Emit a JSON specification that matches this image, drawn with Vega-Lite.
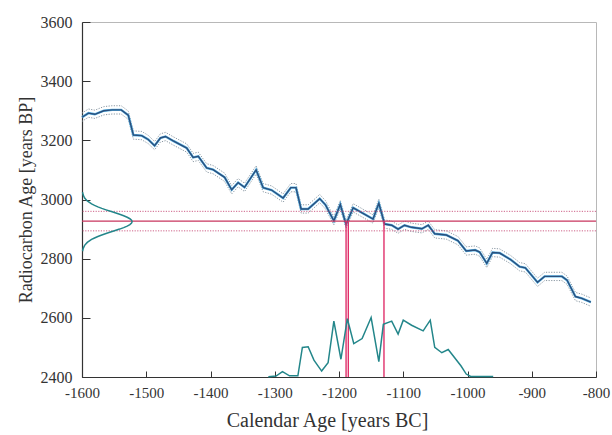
{
  "$schema": "https://vega.github.io/schema/vega-lite/v6.json",
  "width": 514,
  "height": 355,
  "autosize": {"type": "none"},
  "padding": {"left": 82, "top": 22, "right": 16, "bottom": 58},
  "background": "white",
  "config": {
    "view": {"stroke": "#b8b8b8", "strokeWidth": 1},
    "axis": {
      "labelFont": "Liberation Serif",
      "titleFont": "Liberation Serif",
      "labelColor": "#333",
      "titleColor": "#333",
      "titleFontWeight": "normal",
      "domainColor": "#333",
      "tickColor": "#333",
      "labelFlush": false,
      "labelOverlap": false,
      "grid": false
    }
  },
  "datasets": {
    "curve": [
      {"year": -1600, "bp": 3278, "hi": 3292, "lo": 3264},
      {"year": -1590, "bp": 3292, "hi": 3306, "lo": 3278},
      {"year": -1580, "bp": 3288, "hi": 3302, "lo": 3274},
      {"year": -1566, "bp": 3300, "hi": 3314, "lo": 3286},
      {"year": -1553, "bp": 3303, "hi": 3317, "lo": 3289},
      {"year": -1539, "bp": 3303, "hi": 3317, "lo": 3289},
      {"year": -1528, "bp": 3285, "hi": 3299, "lo": 3271},
      {"year": -1520, "bp": 3218, "hi": 3232, "lo": 3204},
      {"year": -1507, "bp": 3216, "hi": 3230, "lo": 3202},
      {"year": -1497, "bp": 3203, "hi": 3217, "lo": 3189},
      {"year": -1487, "bp": 3182, "hi": 3196, "lo": 3168},
      {"year": -1478, "bp": 3208, "hi": 3222, "lo": 3194},
      {"year": -1470, "bp": 3213, "hi": 3227, "lo": 3199},
      {"year": -1458, "bp": 3198, "hi": 3212, "lo": 3184},
      {"year": -1437, "bp": 3174, "hi": 3188, "lo": 3160},
      {"year": -1427, "bp": 3142, "hi": 3156, "lo": 3128},
      {"year": -1419, "bp": 3146, "hi": 3160, "lo": 3132},
      {"year": -1406, "bp": 3107, "hi": 3121, "lo": 3093},
      {"year": -1396, "bp": 3101, "hi": 3115, "lo": 3087},
      {"year": -1378, "bp": 3075, "hi": 3089, "lo": 3061},
      {"year": -1367, "bp": 3033, "hi": 3047, "lo": 3019},
      {"year": -1357, "bp": 3057, "hi": 3071, "lo": 3043},
      {"year": -1347, "bp": 3041, "hi": 3055, "lo": 3027},
      {"year": -1329, "bp": 3100, "hi": 3114, "lo": 3086},
      {"year": -1318, "bp": 3040, "hi": 3054, "lo": 3026},
      {"year": -1305, "bp": 3032, "hi": 3046, "lo": 3018},
      {"year": -1287, "bp": 3005, "hi": 3019, "lo": 2991},
      {"year": -1275, "bp": 3040, "hi": 3054, "lo": 3026},
      {"year": -1267, "bp": 3040, "hi": 3054, "lo": 3026},
      {"year": -1259, "bp": 2968, "hi": 2982, "lo": 2954},
      {"year": -1248, "bp": 2968, "hi": 2982, "lo": 2954},
      {"year": -1230, "bp": 3003, "hi": 3017, "lo": 2989},
      {"year": -1221, "bp": 2982, "hi": 2996, "lo": 2968},
      {"year": -1208, "bp": 2928, "hi": 2942, "lo": 2914},
      {"year": -1198, "bp": 2983, "hi": 2997, "lo": 2969},
      {"year": -1189, "bp": 2916, "hi": 2930, "lo": 2902},
      {"year": -1178, "bp": 2972, "hi": 2986, "lo": 2958},
      {"year": -1147, "bp": 2934, "hi": 2948, "lo": 2920},
      {"year": -1138, "bp": 2987, "hi": 3001, "lo": 2973},
      {"year": -1129, "bp": 2917, "hi": 2931, "lo": 2903},
      {"year": -1118, "bp": 2913, "hi": 2927, "lo": 2899},
      {"year": -1108, "bp": 2900, "hi": 2914, "lo": 2886},
      {"year": -1098, "bp": 2913, "hi": 2927, "lo": 2899},
      {"year": -1087, "bp": 2906, "hi": 2920, "lo": 2892},
      {"year": -1071, "bp": 2901, "hi": 2915, "lo": 2887},
      {"year": -1061, "bp": 2913, "hi": 2927, "lo": 2899},
      {"year": -1051, "bp": 2884, "hi": 2898, "lo": 2870},
      {"year": -1033, "bp": 2880, "hi": 2894, "lo": 2866},
      {"year": -1015, "bp": 2861, "hi": 2875, "lo": 2847},
      {"year": -1002, "bp": 2826, "hi": 2840, "lo": 2812},
      {"year": -988, "bp": 2829, "hi": 2843, "lo": 2815},
      {"year": -981, "bp": 2822, "hi": 2836, "lo": 2808},
      {"year": -970, "bp": 2784, "hi": 2798, "lo": 2770},
      {"year": -961, "bp": 2821, "hi": 2835, "lo": 2807},
      {"year": -950, "bp": 2819, "hi": 2833, "lo": 2805},
      {"year": -933, "bp": 2797, "hi": 2811, "lo": 2783},
      {"year": -919, "bp": 2773, "hi": 2787, "lo": 2759},
      {"year": -910, "bp": 2769, "hi": 2783, "lo": 2755},
      {"year": -891, "bp": 2720, "hi": 2734, "lo": 2706},
      {"year": -880, "bp": 2740, "hi": 2754, "lo": 2726},
      {"year": -853, "bp": 2740, "hi": 2754, "lo": 2726},
      {"year": -845, "bp": 2727, "hi": 2741, "lo": 2713},
      {"year": -832, "bp": 2672, "hi": 2686, "lo": 2658},
      {"year": -822, "bp": 2666, "hi": 2680, "lo": 2652},
      {"year": -808, "bp": 2653, "hi": 2667, "lo": 2639}
    ],
    "gauss": [
      {"gx": -1599.2, "gy": 2825},
      {"gx": -1598.1, "gy": 2835},
      {"gx": -1595.9, "gy": 2845},
      {"gx": -1591.8, "gy": 2855},
      {"gx": -1585.1, "gy": 2865},
      {"gx": -1580.5, "gy": 2870},
      {"gx": -1575.3, "gy": 2875},
      {"gx": -1569.2, "gy": 2880},
      {"gx": -1562.6, "gy": 2885},
      {"gx": -1555.6, "gy": 2890},
      {"gx": -1548.4, "gy": 2895},
      {"gx": -1541.5, "gy": 2900},
      {"gx": -1535.1, "gy": 2905},
      {"gx": -1529.7, "gy": 2910},
      {"gx": -1525.5, "gy": 2915},
      {"gx": -1522.9, "gy": 2920},
      {"gx": -1522, "gy": 2925},
      {"gx": -1522.9, "gy": 2930},
      {"gx": -1525.5, "gy": 2935},
      {"gx": -1529.7, "gy": 2940},
      {"gx": -1535.1, "gy": 2945},
      {"gx": -1541.5, "gy": 2950},
      {"gx": -1548.4, "gy": 2955},
      {"gx": -1555.6, "gy": 2960},
      {"gx": -1562.6, "gy": 2965},
      {"gx": -1569.2, "gy": 2970},
      {"gx": -1575.3, "gy": 2975},
      {"gx": -1580.5, "gy": 2980},
      {"gx": -1585.1, "gy": 2985},
      {"gx": -1591.8, "gy": 2995},
      {"gx": -1595.9, "gy": 3005},
      {"gx": -1598.1, "gy": 3015},
      {"gx": -1599.2, "gy": 3025}
    ],
    "prob": [
      {"year": -1310, "p": 2401},
      {"year": -1298, "p": 2403},
      {"year": -1288, "p": 2418},
      {"year": -1277, "p": 2404},
      {"year": -1264, "p": 2404},
      {"year": -1257, "p": 2500},
      {"year": -1248, "p": 2502},
      {"year": -1239, "p": 2457},
      {"year": -1227, "p": 2420},
      {"year": -1217, "p": 2448},
      {"year": -1208, "p": 2589},
      {"year": -1197, "p": 2460},
      {"year": -1187, "p": 2597},
      {"year": -1177, "p": 2513},
      {"year": -1164, "p": 2530},
      {"year": -1150, "p": 2601},
      {"year": -1138, "p": 2452},
      {"year": -1131, "p": 2578},
      {"year": -1118, "p": 2589},
      {"year": -1108, "p": 2545},
      {"year": -1100, "p": 2592},
      {"year": -1087, "p": 2575},
      {"year": -1069, "p": 2556},
      {"year": -1058, "p": 2592},
      {"year": -1051, "p": 2500},
      {"year": -1040, "p": 2482},
      {"year": -1030, "p": 2493},
      {"year": -1010, "p": 2437},
      {"year": -1002, "p": 2410},
      {"year": -995, "p": 2402},
      {"year": -960, "p": 2402}
    ],
    "hlines": [
      {"v": 2927, "kind": "solid"},
      {"v": 2960, "kind": "dotted"},
      {"v": 2894, "kind": "dotted"}
    ],
    "vlines": [
      {"year": -1189, "y0": 2400, "y1": 2927},
      {"year": -1185.5, "y0": 2400, "y1": 2927},
      {"year": -1130, "y0": 2400, "y1": 2927}
    ]
  },
  "layer": [
    {
      "data": {"name": "curve"},
      "mark": {"type": "line", "color": "#7d8c98", "strokeWidth": 0.9, "strokeDash": [1.2, 1.4]},
      "encoding": {
        "x": {
          "field": "year", "type": "quantitative",
          "scale": {"domain": [-1600, -800], "nice": false, "zero": false},
          "axis": {
            "title": "Calendar Age [years BC]",
            "values": [-1600, -1500, -1400, -1300, -1200, -1100, -1000, -900, -800],
            "labelExpr": "'' + datum.value",
            "labelFont": "Liberation Serif",
            "labelFontSize": 15,
            "titleFontSize": 20,
            "tickSize": -6,
            "labelPadding": 14,
            "titlePadding": 10,
            "titleX": 245,
            "domainWidth": 1.2
          }
        },
        "y": {
          "field": "hi", "type": "quantitative",
          "scale": {"domain": [2400, 3600], "nice": false, "zero": false},
          "axis": {
            "title": "Radiocarbon Age [years BP]",
            "values": [2400, 2450, 2500, 2550, 2600, 2650, 2700, 2750, 2800, 2850, 2900, 2950, 3000, 3050, 3100, 3150, 3200, 3250, 3300, 3350, 3400, 3450, 3500, 3550, 3600],
            "labelExpr": "datum.value % 200 === 0 ? '' + datum.value : ''",
            "labelFont": "Liberation Serif",
            "labelFontSize": 16,
            "titleFontSize": 18,
            "tickSize": {"condition": {"test": "datum.value % 200 === 0", "value": -8}, "value": -5},
            "labelPadding": 18,
            "titlePadding": 5,
            "domainWidth": 1.2
          }
        }
      }
    },
    {
      "data": {"name": "curve"},
      "mark": {"type": "line", "color": "#7d8c98", "strokeWidth": 0.9, "strokeDash": [1.2, 1.4]},
      "encoding": {
        "x": {"field": "year", "type": "quantitative"},
        "y": {"field": "lo", "type": "quantitative"}
      }
    },
    {
      "data": {"name": "curve"},
      "mark": {"type": "line", "color": "#58b4e6", "strokeWidth": 2.4},
      "encoding": {
        "x": {"field": "year", "type": "quantitative"},
        "y": {"field": "bp", "type": "quantitative"}
      }
    },
    {
      "data": {"name": "curve"},
      "mark": {"type": "line", "color": "#2b4f7c", "strokeWidth": 1.4},
      "encoding": {
        "x": {"field": "year", "type": "quantitative"},
        "y": {"field": "bp", "type": "quantitative"}
      }
    },
    {
      "data": {"name": "hlines"},
      "transform": [{"filter": "datum.kind === 'solid'"}],
      "mark": {"type": "rule", "color": "#c8365e", "strokeWidth": 1.3},
      "encoding": {"y": {"field": "v", "type": "quantitative"}}
    },
    {
      "data": {"name": "hlines"},
      "transform": [{"filter": "datum.kind === 'dotted'"}],
      "mark": {"type": "rule", "color": "#c8507a", "strokeWidth": 0.9, "strokeDash": [1.2, 1.4]},
      "encoding": {"y": {"field": "v", "type": "quantitative"}}
    },
    {
      "data": {"name": "vlines"},
      "mark": {"type": "rule", "color": "#e0306a", "strokeWidth": 1.4},
      "encoding": {
        "x": {"field": "year", "type": "quantitative"},
        "y": {"field": "y0", "type": "quantitative"},
        "y2": {"field": "y1"}
      }
    },
    {
      "data": {"name": "gauss"},
      "mark": {"type": "line", "color": "#23868a", "strokeWidth": 1.5},
      "encoding": {
        "x": {"field": "gx", "type": "quantitative"},
        "y": {"field": "gy", "type": "quantitative"},
        "order": {"field": "gy", "type": "quantitative"}
      }
    },
    {
      "data": {"name": "prob"},
      "mark": {"type": "line", "color": "#23868a", "strokeWidth": 1.5},
      "encoding": {
        "x": {"field": "year", "type": "quantitative"},
        "y": {"field": "p", "type": "quantitative"}
      }
    }
  ]
}
